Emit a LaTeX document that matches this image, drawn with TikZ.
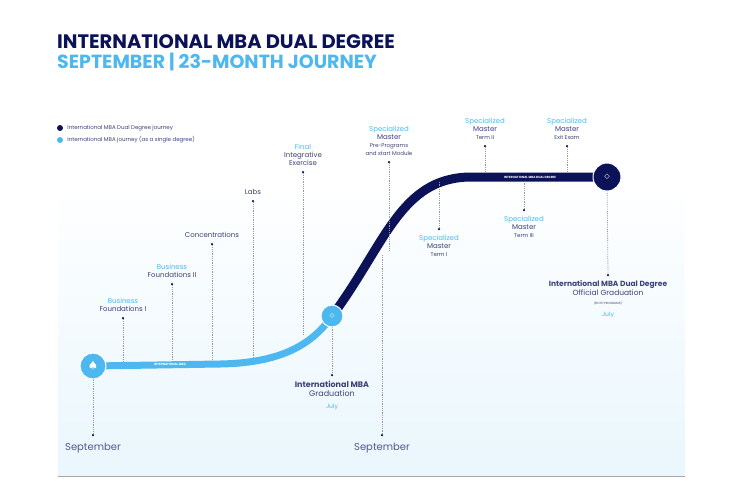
\documentclass[tikz,border=0pt]{standalone}
\usepackage{fontspec}
\setmainfont{Poppins}
\usetikzlibrary{positioning,calc}
\definecolor{navy}{HTML}{0B1257}
\definecolor{sky}{HTML}{4DB8F0}
\tikzset{lbl/.style={align=center, text=navy!80, font=\fontsize{7}{8}\selectfont, inner sep=0pt}}
\tikzset{tick/.style={draw=gray!80, densely dotted, thick}}
\tikzset{pin/.style={circle, fill=navy, inner sep=0pt, minimum size=2.5pt}}
\tikzset{hub/.style={circle, draw=white, line width=1pt, inner sep=0pt}}
\newcommand{\hl}[1]{\textcolor{sky}{#1}}
\begin{document}
\begin{tikzpicture}[x=1pt, y=-1pt]
		\useasboundingbox (0,0) rectangle (740,480);
		\shade [top color=white, bottom color=sky!12] (58,175) rectangle (685,476);
		\fill [white] (58,175) rectangle (685,200);
		\node [anchor=west, inner sep=0pt, text=navy, font=\fontsize{19.5}{20}\selectfont\bfseries]	(title) at (57,42) {INTERNATIONAL MBA DUAL DEGREE};
		\node [anchor=west, inner sep=0pt, text=sky, font=\fontsize{19}{20}\selectfont\bfseries]	(sub) at (57,62) {SEPTEMBER | 23-MONTH JOURNEY};

		% legend
		\node [circle, fill=navy, minimum size=6pt, inner sep=0pt]	(k1) at (60,128) {};
		\node [circle, fill=sky, minimum size=6pt, inner sep=0pt]	(k2) at (60,140) {};
		\node [lbl, anchor=west, right=4pt of k1, font=\fontsize{5.5}{6}\selectfont]	{International MBA Dual Degree journey};
		\node [lbl, anchor=west, right=4pt of k2, font=\fontsize{5.5}{6}\selectfont]	{International MBA journey (as a single degree)};

		% journey
		\coordinate (s) at (93,366);
		\coordinate (g1) at (332,316);
		\coordinate (g2) at (607,177);
		\draw [navy, line width=9pt] (g1) .. controls (385,245) and (400,178) .. (470,177) -- (g2);
		\draw [sky, line width=7pt] (s) -- (220,364) .. controls (280,363) and (312,345) .. (g1);
		\node [text=white, font=\fontsize{3}{3}\selectfont\bfseries] (t1) at (170,364) {INTERNATIONAL MBA};
		\node [text=white, font=\fontsize{3}{3}\selectfont\bfseries] (t2) at (530,177) {INTERNATIONAL MBA DUAL DEGREE};

		% milestones above
		\node [pin] (p1) at (123,318) {};
		\node [pin] (p2) at (172,284) {};
		\node [pin] (p3) at (212,244) {};
		\node [pin] (p4) at (253,201) {};
		\node [pin] (p5) at (303,172) {};
		\node [pin] (p6) at (389,162) {};
		\node [pin] (p7) at (485,146) {};
		\node [pin] (p8) at (567,146) {};
		\node [pin] (p9) at (439,229) {};
		\node [pin] (p10) at (524,210) {};
		\draw [tick] (p1) -- (123,362);
		\draw [tick] (p2) -- (172,362);
		\draw [tick] (p3) -- (212,362);
		\draw [tick] (p4) -- (253,358);
		\draw [tick] (p5) -- (303,335);
		\draw [tick] (p6) -- (389,250);
		\draw [tick] (p7) -- (485,172);
		\draw [tick] (p8) -- (567,172);
		\draw [tick] (p9) -- (439,182);
		\draw [tick] (p10) -- (524,182);
		\node [lbl, above=5pt of p1] {\hl{Business}\\Foundations I};
		\node [lbl, above=5pt of p2] {\hl{Business}\\Foundations II};
		\node [lbl, above=5pt of p3] {Concentrations};
		\node [lbl, above=5pt of p4] {Labs};
		\node [lbl, above=5pt of p5] {\hl{Final}\\Integrative\\Exercise};
		\node [lbl, above=5pt of p6] {\hl{Specialized}\\Master\\{\fontsize{5.5}{6.5}\selectfont Pre-Programs}\\{\fontsize{5.5}{6.5}\selectfont and start Module}};
		\node [lbl, above=5pt of p7] {\hl{Specialized}\\Master\\{\fontsize{5.5}{6.5}\selectfont Term II}};
		\node [lbl, above=5pt of p8] {\hl{Specialized}\\Master\\{\fontsize{5.5}{6.5}\selectfont Exit Exam}};
		\node [lbl, below=5pt of p9] {\hl{Specialized}\\Master\\{\fontsize{5.5}{6.5}\selectfont Term I}};
		\node [lbl, below=5pt of p10] {\hl{Specialized}\\Master\\{\fontsize{5.5}{6.5}\selectfont Term III}};

		% graduations and dates
		\node [pin] (d1) at (93,435) {};
		\node [pin] (d2) at (382,435) {};
		\node [pin] (d3) at (332,375) {};
		\node [pin] (d4) at (608,275) {};
		\draw [tick] (s) -- (d1);
		\draw [tick] (382,255) -- (d2);
		\draw [tick] (g1) -- (d3);
		\draw [tick] (g2) -- (d4);
		\node [hub, fill=sky, minimum size=26pt] (c1) at (s) {\textcolor{white}{\fontsize{10}{10}\selectfont$\spadesuit$}};
		\node [hub, fill=sky, minimum size=22pt] (c2) at (g1) {\textcolor{white}{\fontsize{10}{10}\selectfont$\diamond$}};
		\node [hub, fill=navy, minimum size=28pt] (c3) at (g2) {\textcolor{white}{\fontsize{11}{11}\selectfont$\diamond$}};
		\node [lbl, text=navy!70, font=\fontsize{10}{11}\selectfont, below=6pt of d1] {September};
		\node [lbl, text=navy!70, font=\fontsize{10}{11}\selectfont, below=6pt of d2] {September};
		\node [lbl, below=4pt of d3, font=\fontsize{8}{9.5}\selectfont] {\textbf{International MBA}\\Graduation\\[2pt]{\fontsize{6}{6.5}\selectfont\hl{July}}};
		\node [lbl, below=4pt of d4, font=\fontsize{7.5}{9}\selectfont] {\textbf{International MBA Dual Degree}\\Official Graduation\\{\fontsize{3}{4}\selectfont (BOTH PROGRAMS)}\\[3pt]{\fontsize{6}{6.5}\selectfont\hl{July}}};
		\draw [gray!70, thick] (58,476) -- (685,476);
	\end{tikzpicture}
\end{document}
